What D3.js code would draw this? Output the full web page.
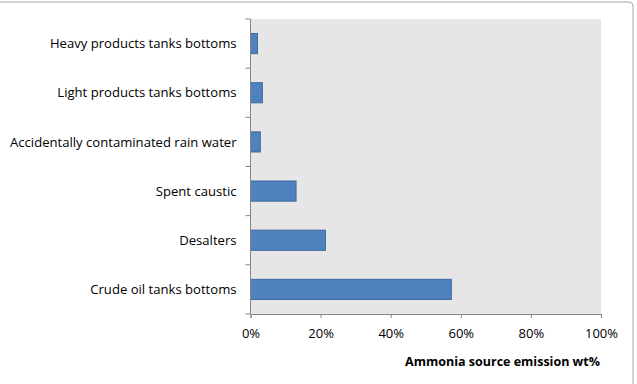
<!DOCTYPE html>
<html>
<head>
<meta charset="utf-8">
<script src="https://cdn.jsdelivr.net/npm/d3@7"></script>
<style>
  body { margin: 0; background: #fff; }
  svg text { font-family: "Open Sans", "Noto Sans", sans-serif; fill: #000; }
</style>
</head>
<body>
<svg id="chart" width="637" height="384" viewBox="0 0 637 384"></svg>
<script>
// ammonia sources, top to bottom as drawn
const sources = [
  "Heavy products tanks bottoms",
  "Light products tanks bottoms",
  "Accidentally contaminated rain water",
  "Spent caustic",
  "Desalters",
  "Crude oil tanks bottoms"
];
const shares = [0.020, 0.034, 0.028, 0.130, 0.214, 0.573];
const xTicks = [0, 0.2, 0.4, 0.6, 0.8, 1.0];

const svg = d3.select("#chart");
const margin = { left: 250.5, top: 19, right: 36, bottom: 70 };

// outer frame (only top and right edges fall inside the view)
svg.append("rect")
  .attr("x", -10).attr("y", 2)
  .attr("width", 643).attr("height", 400)
  .attr("rx", 4)
  .attr("fill", "none")
  .attr("stroke", "#a6a6a6")
  .attr("stroke-width", 1);

const x = d3.scaleLinear().domain([0, 1]).range([margin.left, 601]);
const y = d3.scaleBand().domain(sources).range([margin.top, 314]).paddingInner(0.59).paddingOuter(0.295);
const yOuter = d3.scaleBand().domain(sources).range([margin.top, 314]);

// plot area
svg.append("rect")
  .attr("x", x(0)).attr("y", margin.top)
  .attr("width", x(1) - x(0)).attr("height", 314 - margin.top)
  .attr("fill", "#e6e6e6");

svg.append("g")
  .selectAll("rect")
  .data(sources)
  .enter()
  .append("rect")
  .attr("x", x(0))
  .attr("y", d => y(d))
  .attr("width", (d, i) => x(shares[i]) - x(0))
  .attr("height", y.bandwidth())
  .attr("fill", "#4f81bd")
  .attr("stroke", "#3d6a9e")
  .attr("stroke-width", 1);

// x axis
const xAxis = svg.append("g")
  .attr("transform", "translate(0,314)")
  .call(d3.axisBottom(x).tickValues(xTicks).tickFormat(d3.format(".0%")).tickSize(4).tickPadding(11));
xAxis.select(".domain").attr("stroke", "#868686");
xAxis.selectAll(".tick line").attr("stroke", "#868686");
xAxis.selectAll("text").style("font-size", "13px").style("font-family", "'Open Sans', sans-serif");

// y axis: ticks sit on category boundaries
const yAxis = svg.append("g").attr("transform", `translate(${x(0)},0)`);
yAxis.append("line")
  .attr("x1", 0).attr("x2", 0)
  .attr("y1", margin.top).attr("y2", 314)
  .attr("stroke", "#868686");
const bounds = sources.map(d => yOuter(d)).concat([314]);
yAxis.selectAll("line.tk")
  .data(bounds)
  .enter()
  .append("line")
  .attr("class", "tk")
  .attr("x1", -5).attr("x2", 0)
  .attr("y1", d => d).attr("y2", d => d)
  .attr("stroke", "#868686");
yAxis.selectAll("text")
  .data(sources)
  .enter()
  .append("text")
  .attr("x", -14)
  .attr("y", d => yOuter(d) + yOuter.bandwidth() / 2)
  .attr("dy", "0.35em")
  .attr("text-anchor", "end")
  .style("font-size", "13.1px")
  .text(d => d);

svg.append("text")
  .attr("x", 600)
  .attr("y", 366)
  .attr("text-anchor", "end")
  .style("font-size", "12.5px")
  .style("font-weight", "bold")
  .text("Ammonia source emission wt%");
</script>
</body>
</html>
